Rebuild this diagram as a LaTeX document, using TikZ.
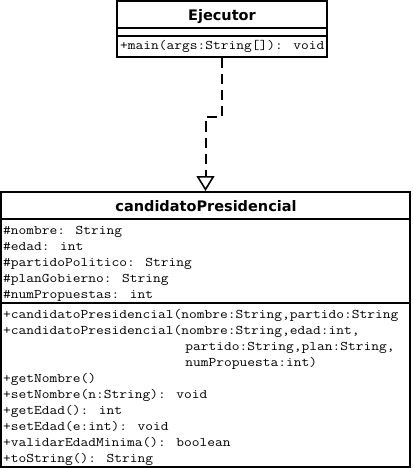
\documentclass[tikz,border=0pt]{standalone}
\usepackage{fontspec}
\setmainfont{DejaVu Sans}
\newfontfamily\umlmono{Latin Modern Mono}[FakeStretch=1.14]
\usetikzlibrary{arrows.meta, positioning}

\begin{document}
\begin{tikzpicture}[x=1pt, y=-1pt]
	\tikzset{
		umlclass/.style={draw, line width=2pt, rectangle, inner sep=0pt}, % box of one class
		classname/.style={font=\fontsize{14.5}{16}\selectfont\bfseries, anchor=base, inner sep=0pt}, % title of the class
		member/.style={font=\fontsize{13.2}{16}\selectfont\umlmono, anchor=base west, inner sep=0pt}, % attributes and methods
		realize/.style={line width=2pt, dash pattern=on 10pt off 6pt, -{Triangle[open, length=15pt, width=18pt, fill=white, line width=1.6pt]}}, % dashed arrow with hollow head
	}
	\useasboundingbox (0,0) rectangle (412,468);
	% the two classes
	\node[umlclass, minimum width=210pt, minimum height=56pt, anchor=north west] (ejecutor) at (116,0) {};
	\node[umlclass, minimum width=409pt, minimum height=274.5pt, anchor=north west] (candidato) at (0,191) {};
	% compartments
	\draw[line width=2pt] (ejecutor.west |- 0,28) -- (ejecutor.east |- 0,28);
	\draw[line width=2pt] (ejecutor.west |- 0,36) -- (ejecutor.east |- 0,36);
	\draw[line width=2pt] (candidato.west |- 0,219) -- (candidato.east |- 0,219);
	\draw[line width=2pt] (candidato.west |- 0,303) -- (candidato.east |- 0,303);
	% Ejecutor
	\node[classname] (ejecutorname) at (222,20.5) {Ejecutor};
	\node[member] (main) at (120,50) {+main(args:String[]): void};
	% candidatoPresidencial
	\node[classname] (candidatoname) at (206,211) {candidatoPresidencial};
	\foreach \txt [count=\i from 0] in {{\#nombre: String}, {\#edad: int}, {\#partidoPolitico: String}, {\#planGobierno: String}, {\#numPropuestas: int}}
		\node[member] (attr\i) at (3,234+16*\i) {\txt};
	\node[member] (ctor1) at (3,318) {+candidatoPresidencial(nombre:String,partido:String};
	\node[member] (ctor2) at (3,334) {+candidatoPresidencial(nombre:String,edad:int,};
	\node[member] (ctor2b) at (185.2,350) {partido:String,plan:String,};
	\node[member] (ctor2c) at (185.2,366) {numPropuesta:int)};
	\foreach \txt [count=\i from 0] in {{+getNombre()}, {+setNombre(n:String): void}, {+getEdad(): int}, {+setEdad(e:int): void}, {+validarEdadMinima(): boolean}, {+toString(): String}}
		\node[member] (meth\i) at (3,382+16*\i) {\txt};
	% realization
	\draw[realize] (ejecutor.south) -- ++(0,59) -| (candidato.north);
\end{tikzpicture}
\end{document}
